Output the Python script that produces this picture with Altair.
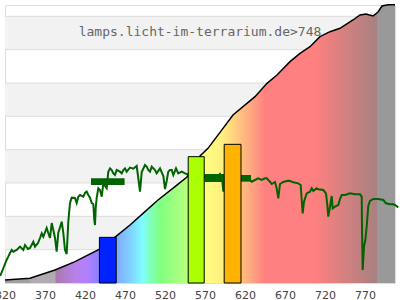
import altair as alt
import pandas as pd

# ---- data ----
# green spectrum line (wavelength nm, intensity)
spec_nm = [314, 318, 322, 324.1, 326.25, 328.4, 330.4, 334.6, 338.75, 342.9, 345, 348.75, 351.25,
           355.4, 357.5, 361.25, 363.75, 365.9, 367.9, 372.1, 374.1, 376.25, 378.4, 380.4, 382.5,
           384.6, 386.6, 390.9, 392.9, 395, 397.1, 399.1, 401.25, 403.4, 407.5, 409.6, 411.6, 413.75,
           417.9, 420, 422.1, 424.1, 426.25, 428.4, 430.4, 431.6, 432.5, 433.4, 434.6, 436.6, 438.75,
           440.9, 442.9, 445, 447.1, 449.1, 451.25, 453.4, 455.4, 457.5, 459.6, 463.75, 465.9, 467.9,
           470, 472.1, 476.25, 480.4, 484.6, 486.6, 488.75, 490.9, 495, 497.1, 499.1, 501.25, 503.4,
           505.4, 507.5, 509.6, 513.75, 517.9, 520, 522.1, 524.1, 526.25, 528.4, 530.4, 533.75, 536.6,
           540.9, 545, 547.1, 551.25, 557.5, 563.75, 570, 573.75, 578.75, 583.75, 588.75, 591.25,
           592.9, 593.75, 601.25, 608.75, 615.9, 620, 626.25, 628.4, 632.5, 636.6, 640.9, 645, 647.1,
           649.1, 651.25, 653.4, 657.5, 659.6, 661.6, 663.75, 667.9, 672.1, 674.1, 676.25, 680.4,
           686.6, 689.6, 690.9, 692.1, 693.75, 697.1, 701.25, 703.4, 705.4, 709.6, 711.6, 717.9,
           721.25, 722.9, 724.1, 726.25, 728.4, 729.6, 732.5, 736.6, 738.75, 740.9, 745, 751.25,
           757.5, 763.75, 765.9, 766.25, 767.1, 768.75, 770.4, 772.1, 774.1, 776.25, 780.4, 786.6,
           792.9, 796.25, 801.25, 805.4, 807.5, 811.6]
spec_val = [21, 45, 69, 79, 90, 99, 94, 99, 109, 99, 114, 102, 105,
            124, 109, 120, 135, 149, 139, 165, 150, 135, 180, 159, 135,
            94, 150, 184, 150, 99, 87, 183, 240, 256, 255, 240, 259, 264,
            259, 270, 274, 264, 256, 240, 237, 189, 174, 225, 255, 284, 279,
            259, 299, 291, 284, 334, 344, 339, 329, 324, 339, 334, 329, 339,
            344, 334, 346, 343, 351, 315, 274, 333, 354, 349, 339, 334, 349,
            344, 339, 329, 344, 321, 282, 306, 334, 339, 339, 324, 344, 329,
            334, 329, 327, 321, 318, 318, 318, 315, 320, 315, 327, 315,
            274, 315, 315, 315, 315, 312, 309, 304, 309, 314, 309, 314, 314,
            309, 304, 297, 303, 284, 254, 297, 303, 306, 307, 306, 302,
            299, 294, 249, 209, 244, 269, 274, 284, 276, 284, 281, 279,
            269, 234, 199, 229, 261, 224, 229, 234, 252, 264, 264, 269,
            266, 266, 259, 169, 39, 109, 129, 169, 231, 246, 252, 252,
            249, 239, 236, 236, 234, 227]

# cumulative curve
cum_nm = [320, 351.25, 382.5, 407.5, 437.5, 458.75, 476.25, 495, 511.25, 532.5, 547.5, 563.75,
          573.75, 592.5, 605, 632.5, 647.5, 660, 676.25, 688.75, 701.25, 713.75, 726.25, 738.75,
          755, 763.75, 771.25, 780, 786.25, 791.25, 798.75, 807.5]
cum_val = [9, 14, 39, 64, 101, 140, 174, 214, 249, 289, 318, 381,
           404, 464, 504, 559, 599, 624, 664, 689, 709, 739, 754, 764,
           789, 804, 807, 801, 813, 831, 835, 835]

# colour bars
bar_start = [438, 549, 594]
bar_end = [459, 569, 615]
bar_val = [137, 379, 416]
bar_name = ["blue", "green", "orange"]
bar_color = ["#0022FF", "#AAFF00", "#FFB300"]

# dense (noisy) parts of the spectrum
nb_start = [427.5, 569.5, 614.5]
nb_end = [469.5, 593.75, 627.5]
nb_lo = [294, 303, 304]
nb_hi = [314, 327, 324]

# background stripes and grid
band_lo = [100, 300, 500, 700]
band_hi = [200, 400, 600, 800]
grid_vals = [100, 200, 300, 400, 500, 600, 700, 800]
x_ticks = [320, 370, 420, 470, 520, 570, 620, 670, 720, 770]
label = "lamps.licht-im-terrarium.de>748"

# spectrum colour stops (fraction of wavelength range, colour)
stop_pos = [0, 0.0641, 0.0642, 0.1282, 0.1308, 0.1795, 0.2128, 0.2359, 0.2846, 0.3205, 0.3538,
            0.3718, 0.3974, 0.4359, 0.4667, 0.5103, 0.5564, 0.6051, 0.641, 0.6667, 0.7949,
            0.9538, 0.954, 1]
stop_col = ["#A0A0A0", "#A0A0A0", "#B0ABB0", "#B0ABB0", "#A87AB0", "#B880E8", "#B080FF",
            "#9080FF", "#80A8FF", "#80D0FF", "#80FFFF", "#80FFC0", "#80FF80", "#A0FF80",
            "#B8FF80", "#FFFF80", "#FFF080", "#FFC080", "#FF9C80", "#FF8080", "#FF8080",
            "#A88080", "#999999", "#999999"]

XD = [320, 807.5]
YD = [0, 834]
xs = alt.Scale(domain=XD, nice=False, zero=False)
ys = alt.Scale(domain=YD, nice=False, zero=False)
x_axis = alt.Axis(values=x_ticks, labelFlush=False, ticks=False, domain=False, grid=False,
                  labelFont="DejaVu Sans", labelFontSize=11, labelColor="#444444",
                  labelPadding=6, format="d", title=None)

spec_df = pd.DataFrame({"nm": spec_nm, "v": spec_val})
cum_df = pd.DataFrame({"nm": cum_nm, "v": cum_val})
bar_df = pd.DataFrame({"a": bar_start, "b": bar_end, "v": bar_val, "n": bar_name})
nb_df = pd.DataFrame({"a": nb_start, "b": nb_end, "lo": nb_lo, "hi": nb_hi})
band_df = pd.DataFrame({"lo": band_lo, "hi": band_hi})
grid_df = pd.DataFrame({"g": grid_vals})
text_df = pd.DataFrame({"t": [label]})

bands = alt.Chart(band_df).mark_rect(color="#F2F2F2").encode(
    x=alt.value(0), x2=alt.value(390),
    y=alt.Y("lo:Q", scale=ys, axis=None), y2="hi:Q")

grid = alt.Chart(grid_df).mark_rule(color="#DDDDDD", strokeWidth=1).encode(
    y=alt.Y("g:Q", scale=ys, axis=None))

grad = alt.Gradient(
    gradient="linear",
    stops=[alt.GradientStop(color=c, offset=o) for o, c in zip(stop_pos, stop_col)],
    x1=0, x2=1, y1=0, y2=0)

area = alt.Chart(cum_df).mark_area(color=grad).encode(
    x=alt.X("nm:Q", scale=xs, axis=x_axis),
    y=alt.Y("v:Q", scale=ys, axis=None))

cum_line = alt.Chart(cum_df).mark_line(color="black", strokeWidth=1.5).encode(
    x=alt.X("nm:Q", scale=xs, axis=x_axis),
    y=alt.Y("v:Q", scale=ys, axis=None))

spec_line = alt.Chart(spec_df).mark_line(color="#006400", strokeWidth=2).encode(
    x=alt.X("nm:Q", scale=xs, axis=x_axis),
    y=alt.Y("v:Q", scale=ys, axis=None))

noise = alt.Chart(nb_df).mark_rect(color="#006400").encode(
    x=alt.X("a:Q", scale=xs, axis=x_axis), x2="b:Q",
    y=alt.Y("lo:Q", scale=ys, axis=None), y2="hi:Q")

bars = alt.Chart(bar_df).mark_rect(stroke="black", strokeWidth=1).encode(
    x=alt.X("a:Q", scale=xs, axis=x_axis), x2="b:Q",
    y=alt.Y("v:Q", scale=ys, axis=None), y2=alt.datum(0),
    fill=alt.Fill("n:N", scale=alt.Scale(domain=bar_name, range=bar_color), legend=None))

text = alt.Chart(text_df).mark_text(font="DejaVu Sans Mono", fontSize=13, color="#666666",
                                    align="center", baseline="alphabetic").encode(
    x=alt.value(195), y=alt.value(31), text="t:N")

chart = alt.layer(bands, grid, area, cum_line, spec_line, noise, bars, text).properties(
    width=390, height=278,
    autosize=alt.AutoSizeParams(type="none"),
    padding={"left": 5, "top": 5, "right": 5, "bottom": 17},
    background="white",
).configure_view(stroke="#DDDDDD", strokeWidth=1)

chart.save("out.html", embed_options={"renderer": "svg", "actions": False})
